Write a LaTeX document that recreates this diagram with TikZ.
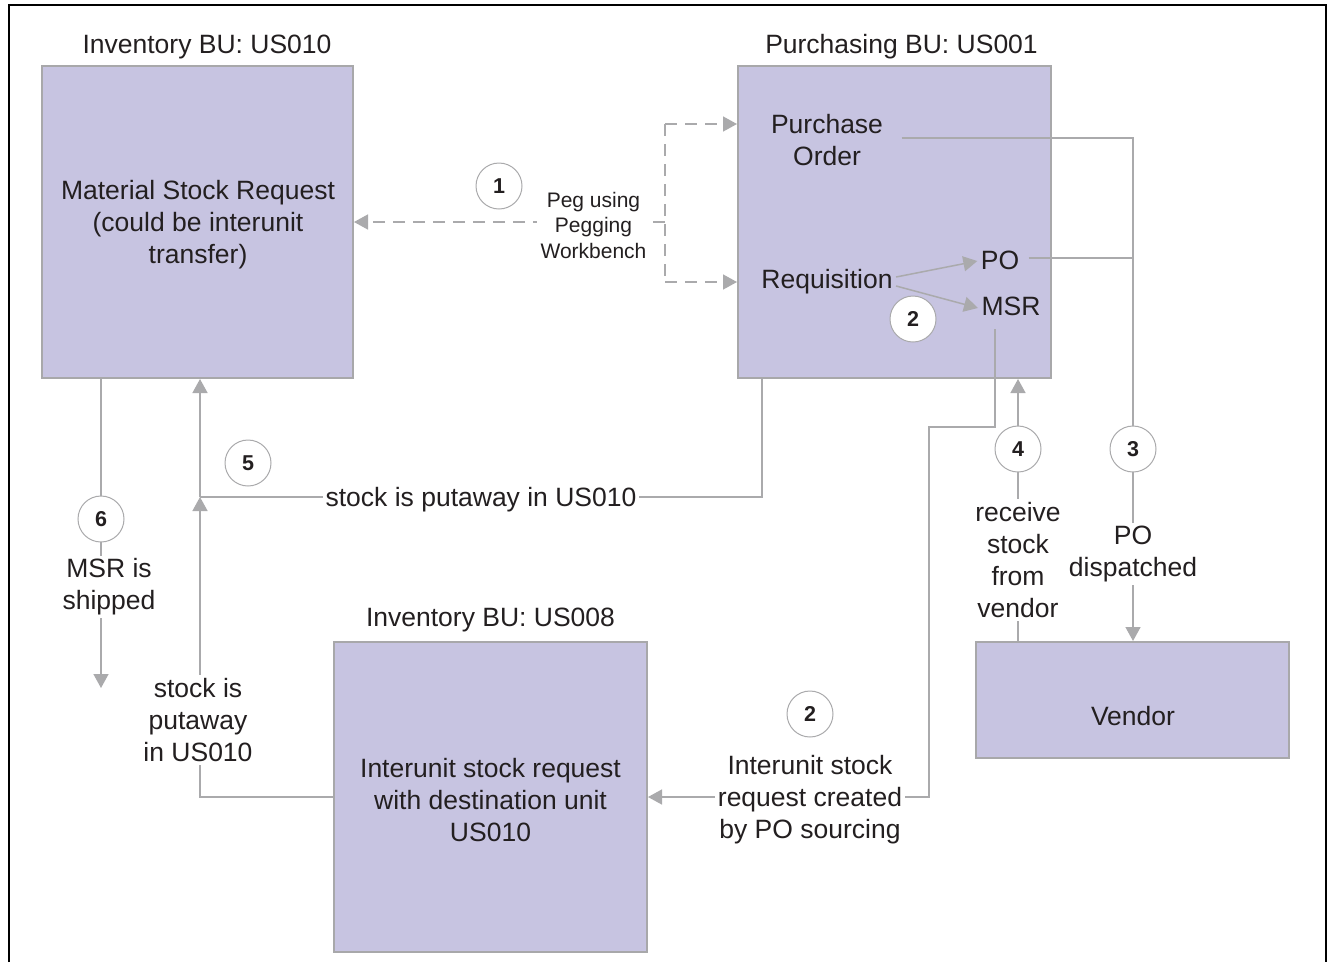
\documentclass[tikz,border=0pt]{standalone}
\usepackage{fontspec}
\setmainfont{Liberation Sans}
\usetikzlibrary{arrows.meta}
\definecolor{boxfill}{RGB}{199,196,225}
\definecolor{boxline}{RGB}{168,168,170}
\definecolor{conn}{RGB}{170,170,172}
\definecolor{ink}{RGB}{35,31,32}
\tikzset{
  base/.style={font=\fontsize{26.5}{32}\selectfont, text=ink, align=center},
  txt/.style={base, yshift=-3pt},
  box/.style={draw=boxline, line width=2pt, fill=boxfill, inner sep=0pt},
  lbl/.style={txt, fill=white, inner sep=3pt},
  num/.style={circle, draw=conn, line width=1pt, fill=white, minimum size=46pt,
    inner sep=0pt, font=\bfseries\fontsize{21.5}{25}\selectfont, text=ink},
  plain/.style={draw=conn, line width=1.5pt},
  flow/.style={plain, -{Triangle[length=14pt,width=15pt]}},
  pegline/.style={plain, dash pattern=on 12pt off 8pt},
  peg/.style={flow, dash pattern=on 12pt off 8pt},
}
\begin{document}
\begin{tikzpicture}[x=1pt,y=-1pt]
\useasboundingbox (0,0) rectangle (1328,962);
% outer frame (open at the bottom)
\draw[line width=2.5pt] (9,962) -- (9,5) -- (1326,5) -- (1326,962);

% business unit boxes
\node[box, minimum width=311pt, minimum height=312pt] (msr) at (197.5,222) {};
\node[box, minimum width=313pt, minimum height=312pt] (pb) at (894.5,222) {};
\node[box, minimum width=313pt, minimum height=310pt] (iu) at (490.5,797) {};
\node[box, minimum width=313pt, minimum height=116pt] (vd) at (1132.5,700) {};
\node[txt] (msrtxt) at (198,222) {Material Stock Request\\(could be interunit\\transfer)};
\node[txt] (iutxt) at (490.5,797) {Interunit stock request\\with destination unit\\US010};
\node[txt] (vtxt) at (1133,713) {Vendor};

% titles
\node[txt] (t1) at (207,44) {Inventory BU: US010};
\node[txt] (t2) at (901.5,44) {Purchasing BU: US001};
\node[txt] (t3) at (490.5,617) {Inventory BU: US008};

% documents inside the purchasing unit
\node[txt] (po) at (827,137) {Purchase\\Order};
\node[txt] (req) at (827,279) {Requisition};
\node[txt] (po2) at (1000,257) {PO};
\node[txt] (msr2) at (1011,303) {MSR};

% bend points
\coordinate (c3top) at (1133,138);
\coordinate (m1) at (995,329);
\coordinate (m2) at (995,427);
\coordinate (m3) at (929,427);
\coordinate (c4) at (1018,0);
\coordinate (c5) at (762,497);
\coordinate (j5) at (200,497);
\coordinate (c6) at (101,688);
\coordinate (pgt) at (665,124);
\coordinate (pgb) at (665,282);

% connectors
\draw[flow] ([yshift=5pt]req.east) -- ([yshift=-1pt]po2.west);
\draw[flow] ([yshift=-4pt]req.east) -- ([yshift=-2pt]msr2.west);
\draw[flow] ([xshift=15pt]po.east |- c3top) -- (c3top) -- (vd.north -| c3top);
\draw[plain] ([xshift=6pt]po2.east |- 0,258) -- (c3top |- 0,258);
\draw[flow] (m1) -- (m2) -- (m3) -- (m3 |- iu.east) -- (iu.east);
\draw[flow] (vd.north -| c4) -- (pb.south -| c4);
\draw[plain] (pb.south -| c5) -- (c5) -- (j5);
\draw[flow] (j5) -- (msr.south -| j5);
\draw[flow] (iu.west) -- (iu.west -| j5) -- (j5);
\draw[flow] (msr.south -| c6) -- (c6);
\draw[pegline] (pgt) -- (pgb);
\draw[peg] (pgt) -- (pgt -| pb.west);
\draw[peg] (pgb) -- (pgb -| pb.west);
\draw[peg] (msr.east -| pgt) -- (msr.east);

% step numbers and connector labels
\node[num] (n1) at (499,186) {1};
\node[lbl, font=\fontsize{21}{25.5}\selectfont, inner sep=4pt] (peglbl) at (593.5,222)
  {Peg using\\Pegging\\Workbench};
\node[num] (n2a) at (913,319) {2};
\node[num] (n2b) at (810,714) {2};
\node[lbl] (l2) at (810,797) {Interunit stock\\request created\\by PO sourcing};
\node[num] (n3) at (1133,449) {3};
\node[lbl] (l3) at (1133,551) {PO\\dispatched};
\node[num] (n4) at (1018,449) {4};
\node[lbl] (l4) at (1018,557) {receive\\stock\\from\\vendor};
\node[num] (n5) at (248,463) {5};
\node[lbl] (l5) at (481,497) {stock is putaway in US010};
\node[lbl] (l5b) at (198,717) {stock is\\putaway\\in US010};
\node[num] (n6) at (101,519) {6};
\node[lbl] (l6) at (109,584) {MSR is\\shipped};
\end{tikzpicture}
\end{document}
